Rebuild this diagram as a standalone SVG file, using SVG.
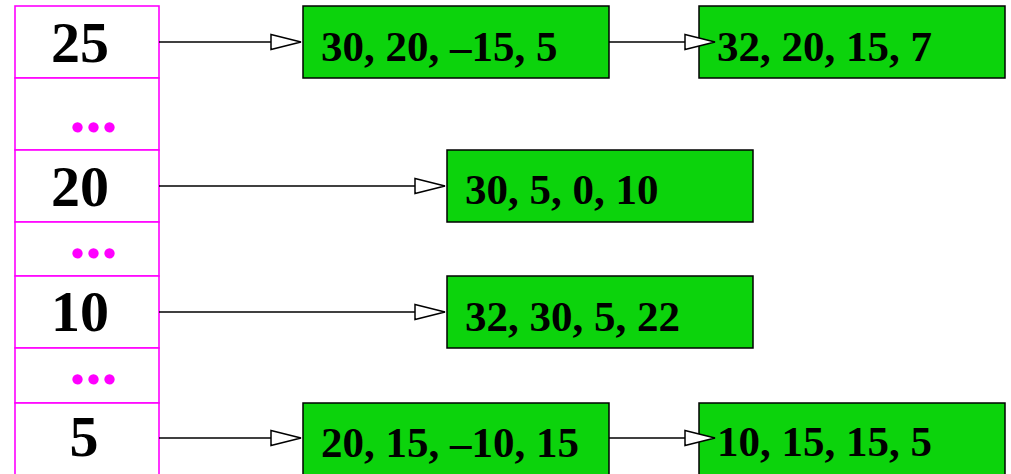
<svg xmlns="http://www.w3.org/2000/svg" width="1011" height="474" viewBox="0 0 1011 474">
  <defs>
    <marker id="arr" markerUnits="userSpaceOnUse" markerWidth="34" markerHeight="20" refX="30" refY="8" orient="auto" viewBox="-2 0 34 16">
      <path d="M0,0.5 L30,8 L0,15.5 Z" fill="#fff" stroke="#000" stroke-width="1.5"/>
    </marker>
    <style>
      .cell { fill: #fff; stroke: #ff00ff; stroke-width: 1.6; }
      .key { font-family: "Liberation Serif", "Times New Roman", serif; font-weight: bold; font-size: 58px; fill: #000; text-anchor: middle; }
      .dots { font-family: "Liberation Serif", "Times New Roman", serif; font-weight: bold; font-size: 64px; fill: #ff00ff; text-anchor: middle; }
      .box { fill: #0cd30c; stroke: #000; stroke-width: 1.5; }
      .lbl { font-family: "Liberation Serif", "Times New Roman", serif; font-weight: bold; font-size: 43px; fill: #000; }
      .edge { fill: none; stroke: #000; stroke-width: 1.5; marker-end: url(#arr); }
    </style>
  </defs>
  <rect width="1011" height="474" fill="#fff"/>

  <g id="table">
    <g id="cell-25"><rect class="cell" x="15" y="6" width="144" height="72"/><text class="key" x="80" y="62">25</text></g>
    <g id="cell-dots1"><rect class="cell" x="15" y="78" width="144" height="72"/><text class="dots" x="93.5" y="132">...</text></g>
    <g id="cell-20"><rect class="cell" x="15" y="150" width="144" height="72"/><text class="key" x="80" y="206">20</text></g>
    <g id="cell-dots2"><rect class="cell" x="15" y="222" width="144" height="54"/><text class="dots" x="93.5" y="258">...</text></g>
    <g id="cell-10"><rect class="cell" x="15" y="276" width="144" height="72"/><text class="key" x="80" y="331">10</text></g>
    <g id="cell-dots3"><rect class="cell" x="15" y="348" width="144" height="55"/><text class="dots" x="93.5" y="384">...</text></g>
    <g id="cell-5"><rect class="cell" x="15" y="403" width="144" height="76"/><text class="key" x="84" y="456">5</text></g>
  </g>

  <g id="node-a1"><rect class="box" x="303" y="6" width="306" height="72"/><text class="lbl" x="321" y="61">30, 20, –15, 5</text></g>
  <g id="node-a2"><rect class="box" x="699" y="6" width="306" height="72"/><text class="lbl" x="717" y="61">32, 20, 15, 7</text></g>
  <g id="node-b1"><rect class="box" x="447" y="150" width="306" height="72"/><text class="lbl" x="465" y="204">30, 5, 0, 10</text></g>
  <g id="node-c1"><rect class="box" x="447" y="276" width="306" height="72"/><text class="lbl" x="465" y="331">32, 30, 5, 22</text></g>
  <g id="node-d1"><rect class="box" x="303" y="403" width="306" height="76"/><text class="lbl" x="321" y="457">20, 15, –10, 15</text></g>
  <g id="node-d2"><rect class="box" x="699" y="403" width="306" height="76"/><text class="lbl" x="717" y="456">10, 15, 15, 5</text></g>

  <g id="connectors">
    <line class="edge" x1="159" y1="42" x2="301" y2="42"/>
    <line class="edge" x1="609" y1="42" x2="715" y2="42"/>
    <line class="edge" x1="159" y1="186" x2="445" y2="186"/>
    <line class="edge" x1="159" y1="312" x2="445" y2="312"/>
    <line class="edge" x1="159" y1="438" x2="301" y2="438"/>
    <line class="edge" x1="609" y1="438" x2="715" y2="438"/>
  </g>
</svg>
